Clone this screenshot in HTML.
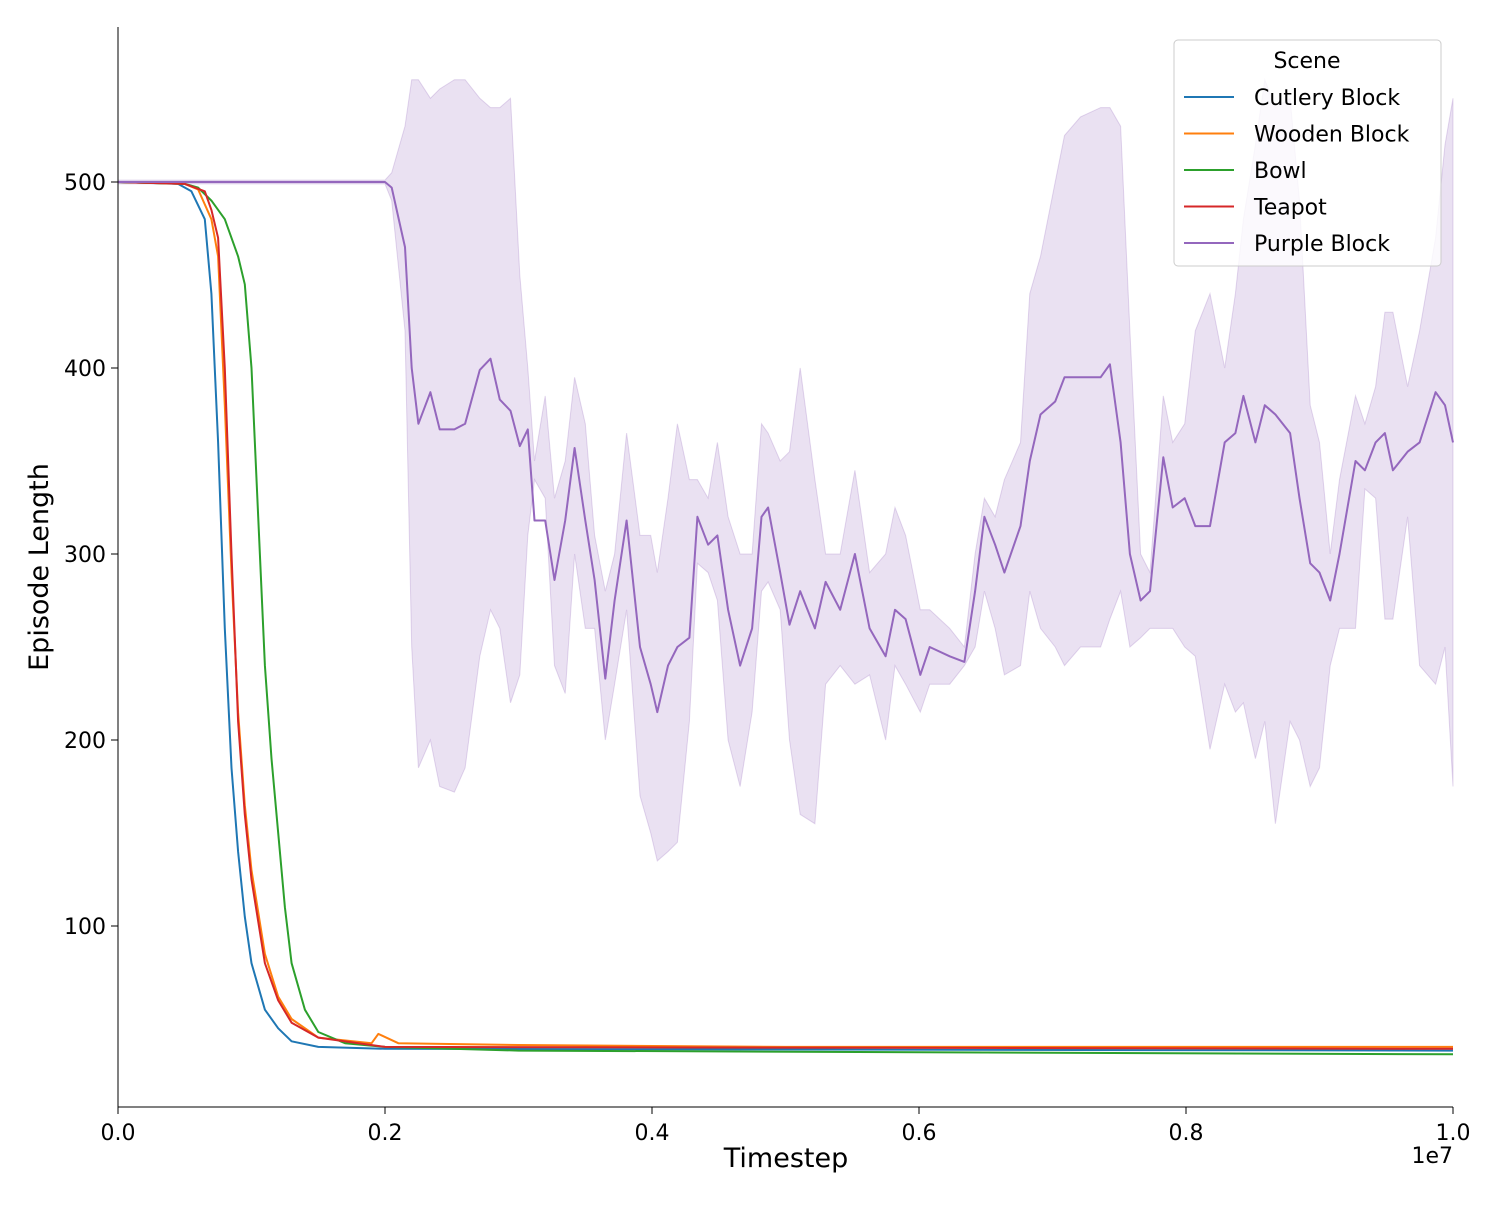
<!DOCTYPE html>
<html><head><meta charset="utf-8"><style>
body{margin:0;background:#fff;font-family:"Liberation Sans","DejaVu Sans",sans-serif}
svg text{font-family:"DejaVu Sans","Liberation Sans",sans-serif}
</style></head><body>
<svg id="chart" width="1500" height="1200" xmlns="http://www.w3.org/2000/svg">
<g id="bands"></g>
<g id="lines"></g>
<g id="axes"></g>
<g id="legend"></g>
</svg>
<script>
const xTicks=[0,0.2,0.4,0.6,0.8,1.0];
const xTickLabels=["0.0","0.2","0.4","0.6","0.8","1.0"];
const yTicks=[100,200,300,400,500];
const seriesNames=["Cutlery Block","Wooden Block","Bowl","Teapot","Purple Block"];
const seriesColors=["#1f77b4","#ff7f0e","#2ca02c","#d62728","#9467bd"];
const cutleryX=[0,0.045,0.055,0.065,0.07,0.075,0.08,0.085,0.09,0.095,0.1,0.11,0.12,0.13,0.15,0.2,1.0];
const cutleryY=[500,499,495,480,440,360,260,185,140,105,80,55,45,38,35,34,33];
const woodenX=[0,0.05,0.06,0.07,0.075,0.08,0.085,0.09,0.095,0.1,0.11,0.12,0.13,0.15,0.19,0.195,0.21,0.3,0.5,1.0];
const woodenY=[500,499,496,480,460,380,290,215,165,130,85,62,50,40,37,42,37,36,35,35];
const teapotX=[0,0.05,0.065,0.07,0.075,0.08,0.085,0.09,0.095,0.1,0.11,0.12,0.13,0.15,0.2,1.0];
const teapotY=[500,499,495,485,470,400,300,210,160,125,80,60,48,40,35,34];
const bowlX=[0,0.05,0.06,0.07,0.08,0.09,0.095,0.1,0.105,0.11,0.115,0.12,0.125,0.13,0.14,0.15,0.17,0.2,0.3,1.0];
const bowlY=[500,499,497,490,480,460,445,400,320,240,190,150,110,80,55,43,37,35,33,31];
const purpleX=[0,0.1,0.2,0.205,0.215,0.22,0.225,0.234,0.241,0.252,0.26,0.271,0.279,0.286,0.294,0.301,0.307,0.312,0.320,0.327,0.335,0.342,0.350,0.357,0.365,0.372,0.381,0.391,0.399,0.404,0.412,0.419,0.428,0.434,0.442,0.449,0.457,0.466,0.475,0.482,0.487,0.496,0.503,0.511,0.522,0.530,0.541,0.552,0.563,0.575,0.582,0.590,0.601,0.608,0.623,0.634,0.642,0.649,0.657,0.664,0.676,0.683,0.691,0.702,0.709,0.721,0.736,0.743,0.751,0.758,0.766,0.773,0.783,0.790,0.799,0.807,0.818,0.829,0.837,0.843,0.852,0.859,0.867,0.878,0.885,0.893,0.900,0.908,0.915,0.927,0.934,0.942,0.949,0.955,0.966,0.975,0.987,0.994,1.0];
const purpleMean=[500,500,500,497,465,400,370,387,367,367,370,399,405,383,377,358,367,318,318,286,318,357,318,286,233,275,318,250,230,215,240,250,255,320,305,310,270,240,260,320,325,290,262,280,260,285,270,300,260,245,270,265,235,250,245,242,280,320,305,290,315,350,375,382,395,395,395,402,360,300,275,280,352,325,330,315,315,360,365,385,360,380,375,365,330,295,290,275,300,350,345,360,365,345,355,360,387,380,360];
const purpleLo=[499,499,499,490,420,250,185,200,175,172,185,245,270,260,220,235,310,340,330,240,225,300,260,260,200,230,270,170,150,135,140,145,210,295,290,275,200,175,215,280,285,270,200,160,155,230,240,230,235,200,240,230,215,230,230,240,250,280,260,235,240,280,260,250,240,250,250,265,280,250,255,260,260,260,250,245,195,230,215,220,190,210,155,210,200,175,185,240,260,260,335,330,265,265,320,240,230,250,175];
const purpleHi=[501,501,501,505,530,555,555,545,550,555,555,545,540,540,545,450,400,350,385,330,350,395,370,310,280,300,365,310,310,290,330,370,340,340,330,360,320,300,300,370,365,350,355,400,340,300,300,345,290,300,325,310,270,270,260,250,300,330,320,340,360,440,460,500,525,535,540,540,530,420,300,290,385,360,370,420,440,400,440,480,520,555,540,545,490,380,360,300,340,385,370,390,430,430,390,420,470,520,545];

const X0=118,X1=1453,YT=27,YB=1107;
const sx=v=>X0+v*(X1-X0);
const sy=v=>1112-v*1.86;
const NS="http://www.w3.org/2000/svg";
function mk(tag,attrs,parent){const e=document.createElementNS(NS,tag);for(const k in attrs)e.setAttribute(k,attrs[k]);parent.appendChild(e);return e;}
function linePath(xs,ys){return xs.map((x,i)=>(i?"L":"M")+sx(x).toFixed(1)+","+sy(ys[i]).toFixed(1)).join("");}
const bands=document.getElementById('bands'),lines=document.getElementById('lines'),axes=document.getElementById('axes'),legend=document.getElementById('legend');

let bd=purpleX.map((x,i)=>(i?"L":"M")+sx(x).toFixed(1)+","+sy(purpleHi[i]).toFixed(1)).join("");
for(let i=purpleX.length-1;i>=0;i--)bd+="L"+sx(purpleX[i]).toFixed(1)+","+sy(purpleLo[i]).toFixed(1);
const pb=mk('path',{d:bd+"Z",fill:"#9467bd","fill-opacity":0.2,stroke:"#9467bd","stroke-opacity":0.25,"stroke-width":1},bands);



const sets=[[cutleryX,cutleryY],[woodenX,woodenY],[bowlX,bowlY],[teapotX,teapotY],[purpleX,purpleMean]];
sets.forEach((s,i)=>{
  const p=mk('path',{d:linePath(s[0],s[1]),fill:"none",stroke:seriesColors[i],"stroke-width":2,"stroke-linejoin":"round"},lines);
  
  
});

mk('line',{x1:X0,y1:YT,x2:X0,y2:YB,stroke:"#000","stroke-width":1},axes);
mk('line',{x1:X0,y1:YB,x2:X1,y2:YB,stroke:"#000","stroke-width":1},axes);
xTicks.forEach((t,i)=>{
  mk('line',{x1:sx(t),y1:YB,x2:sx(t),y2:YB+7,stroke:"#000"},axes);
  const tx=mk('text',{x:sx(t),y:YB+33,"font-size":22,"text-anchor":"middle"},axes);
  tx.textContent=xTickLabels[i];
  
  
});
yTicks.forEach(t=>{
  mk('line',{x1:X0-7,y1:sy(t),x2:X0,y2:sy(t),stroke:"#000"},axes);
  const tx=mk('text',{x:X0-12,y:sy(t)+8,"font-size":22,"text-anchor":"end"},axes);
  tx.textContent=t;
  
  
});
const xt=mk('text',{x:786,y:1167,"font-size":27,"text-anchor":"middle"},axes);xt.textContent="Timestep";


const ex=mk('text',{x:1453,y:1163,"font-size":22,"text-anchor":"end"},axes);ex.textContent="1e7";


const yt=mk('text',{x:48,y:567,"font-size":27,"text-anchor":"middle",transform:"rotate(-90 48 567)"},axes);yt.textContent="Episode Length";



mk('rect',{x:1174,y:40,width:267,height:226,rx:4,fill:"#fff","fill-opacity":0.8,stroke:"#ccc"},legend);
const lt=mk('text',{x:1307,y:68,"font-size":22,"text-anchor":"middle"},legend);lt.textContent="Scene";


seriesNames.forEach((n,i)=>{
  const y=97+i*36.5;
  mk('line',{x1:1184,y1:y,x2:1234,y2:y,stroke:seriesColors[i],"stroke-width":2},legend);
  const t=mk('text',{x:1254,y:y+8,"font-size":22},legend);t.textContent=n;
  
  
});
</script>
</body></html>
